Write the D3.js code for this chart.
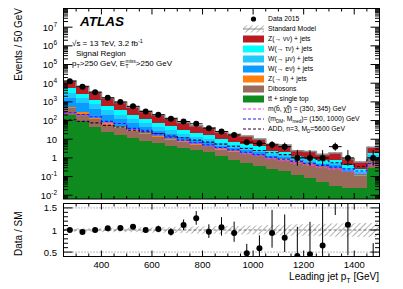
<!DOCTYPE html>
<html><head><meta charset="utf-8">
<script src="https://cdn.jsdelivr.net/npm/d3@7"></script>
<style>
body{margin:0;background:#fff}
text{font-family:"Liberation Sans",Arial,Helvetica,sans-serif;fill:#000}
</style></head>
<body><svg id="c" width="403" height="289"></svg>
<script>
// ---------------- data ----------------
const binLow = [250,300,350,400,450,500,550,600,650,700,750,800,850,900,950,1000,1050,1100,1150,1200,1250,1300,1350,1400,1450];
const binWidth = 50;
const dataCounts = [12900,6470,3300,1650,980,580,310,205,125,89,67,39,26,17,7,6,5,4,1,1,1,4,1,0,1];
const ttbar  = [205,95,45,24,16,11,8,6,4.5,3.3,2.6,2.0,1.2,0.8,0.55,0.35,0.25,0.2,0.12,0.08,0.05,0.03,0.025,0.025,0.3];
const dibos  = [250,130,70,36,24,15,10,7,5,3.5,2.6,2.2,1.6,1.3,1.2,1.0,0.7,0.6,0.5,0.4,0.3,0.25,0.15,0.08,0.6];
const zll    = [100,55,27,13,8,5,3,2,1.3,0.8,0.5,0.4,0.25,0.2,0.15,0.1,0.06,0.05,0.04,0.03,0.02,0.02,0.01,0.01,0.03];
const wen    = [1100,560,270,125,72,40,22,14,9,5.5,3.5,2.6,1.5,1.1,0.9,0.6,0.3,0.28,0.15,0.12,0.08,0.1,0.05,0.03,0.2];
const wmn    = [1350,680,320,150,85,48,27,17,11,6.5,4.2,3.1,1.8,1.3,1.05,0.7,0.35,0.32,0.18,0.14,0.1,0.12,0.06,0.04,0.25];
const wtn    = [2400,1250,600,280,160,90,50,32,20,12,7.8,5.8,3.4,2.5,2.0,1.4,0.7,0.65,0.35,0.28,0.2,0.25,0.12,0.08,0.45];
const znn    = [7495,4000,1968,962,575,331,190,122,80.2,48.4,31.8,24.4,14.75,11,9,6.1,2.99,2.75,1.1,1.16,0.79,1.05,0.48,0.34,1.9];
const smRelUnc = [0.04,0.04,0.04,0.05,0.05,0.05,0.06,0.06,0.07,0.07,0.08,0.08,0.09,0.09,0.1,0.1,0.11,0.12,0.13,0.13,0.14,0.15,0.15,0.16,0.16];
const sigSbottom = [254,200,170,80,72,32,28,18,12,8,6,4.5,3.2,2.4,1.7,1.3,0.9,0.7,0.5,0.4,0.3,0.25,0.2,0.15,0.4];
const sigDM      = [260,210,160,90,70,38,30,20,13,9,6.5,5,3.6,2.7,2,1.5,1.1,0.85,0.65,0.5,0.4,0.32,0.26,0.2,0.5];
const sigADD     = [110,90,75,55,45,30,25,20,15,12,9,7,5.5,4.2,3.2,2.5,1.9,1.5,1.1,0.9,0.7,0.55,0.45,0.35,0.8];
const yTickExp = [-2,-1,0,1,2,3,4,5,6,7];
const xTickLabels = [400,600,800,1000,1200,1400];
const ratioTicks = [0.5,1,1.5];

const layers = [
  {name:"tt̄ + single top", vals:ttbar, color:"#0f8a1e"},
  {name:"Dibosons", vals:dibos, color:"#9a6b5a"},
  {name:"Z(→ ll) + jets", vals:zll, color:"#ff7f0e"},
  {name:"W(→ eν) + jets", vals:wen, color:"#0a9bff"},
  {name:"W(→ μν) + jets", vals:wmn, color:"#1fc8ff"},
  {name:"W(→ τν) + jets", vals:wtn, color:"#00ffff"},
  {name:"Z(→ νν) + jets", vals:znn, color:"#b81c22"}
];

// ---------------- layout ----------------
const svg = d3.select("#c");
const L=63.5, R=379.5, T1=8.5, B1=199, T2=203.5, B2=256.5;
const x = d3.scaleLinear([250,1500],[L,R]);
const y = d3.scaleLog([Math.pow(10,-2.2),1e8],[B1,T1]);
const yr = d3.scaleLinear([0.4,1.6],[B2,T2]);

const defs = svg.append("defs");
const pat = defs.append("pattern").attr("id","hatch").attr("patternUnits","userSpaceOnUse")
  .attr("width",4).attr("height",4).attr("patternTransform","rotate(45)");
pat.append("line").attr("x1",0).attr("y1",0).attr("x2",0).attr("y2",4).attr("stroke","#444").attr("stroke-width",0.8);
defs.append("clipPath").attr("id","clipU").append("rect").attr("x",L).attr("y",T1).attr("width",R-L).attr("height",B1-T1);
defs.append("clipPath").attr("id","clipL").append("rect").attr("x",L).attr("y",T2).attr("width",R-L).attr("height",B2-T2);

const up = svg.append("g").attr("clip-path","url(#clipU)");
const n = binLow.length;
const cum = []; let run = new Array(n).fill(0);
layers.forEach(l=>{ const lo=run.slice(); run = run.map((v,i)=>v+l.vals[i]); cum.push({l, lo, hi:run.slice()}); });
const smTot = run.slice();

cum.forEach(c=>{
  up.selectAll(null).data(d3.range(n)).join("rect")
    .attr("x",i=>x(binLow[i])).attr("width",i=>x(binLow[i]+binWidth)-x(binLow[i]))
    .attr("y",i=>y(c.hi[i]))
    .attr("height",i=>(c.lo[i]>0? y(c.lo[i]) : B1+2)-y(c.hi[i]))
    .attr("fill",c.l.color).attr("shape-rendering","crispEdges");
});
up.selectAll(null).data(d3.range(n)).join("rect")
  .attr("x",i=>x(binLow[i])).attr("width",i=>x(binLow[i]+binWidth)-x(binLow[i]))
  .attr("y",i=>y(smTot[i]*(1+smRelUnc[i])))
  .attr("height",i=>y(smTot[i]*(1-smRelUnc[i]))-y(smTot[i]*(1+smRelUnc[i])))
  .attr("fill","url(#hatch)");
function stepPath(vals, yy){
  let p="";
  vals.forEach((v,i)=>{ const x0=x(binLow[i]), x1=x(binLow[i]+binWidth), yv=yy(v);
    p += (i===0? `M${x0},${yv}` : `L${x0},${yv}`) + `L${x1},${yv}`; });
  return p;
}
up.append("path").attr("d",stepPath(smTot,y)).attr("fill","none").attr("stroke","#8c8c8c").attr("stroke-width",1.6);
[[sigSbottom,"#ff3cff"],[sigDM,"#1a1aff"],[sigADD,"#330033"]].forEach(([v,c])=>{
  up.append("path").attr("d",stepPath(v,y)).attr("fill","none").attr("stroke",c).attr("stroke-width",1.1).attr("stroke-dasharray","3,2");
});
function pois(k){ if(k===0) return [0,1.84]; const s=Math.sqrt(k+0.25); return [k-s+0.5, k+s+0.5]; }
const dg = up.append("g");
d3.range(n).forEach(i=>{
  const k=dataCounts[i]; if(k<=0) return;
  const cx=x(binLow[i]+binWidth/2), [lo,hi]=pois(k);
  dg.append("line").attr("x1",cx).attr("x2",cx).attr("y1",y(hi)).attr("y2",lo>0?y(lo):B1).attr("stroke","#000").attr("stroke-width",1);
  dg.append("line").attr("x1",x(binLow[i])).attr("x2",x(binLow[i]+binWidth)).attr("y1",y(k)).attr("y2",y(k)).attr("stroke","#000").attr("stroke-width",1);
  dg.append("circle").attr("cx",cx).attr("cy",y(k)).attr("r",3).attr("fill","#000");
});

const lo = svg.append("g").attr("clip-path","url(#clipL)");
lo.selectAll(null).data(d3.range(n)).join("rect")
  .attr("x",i=>x(binLow[i])).attr("width",i=>x(binLow[i]+binWidth)-x(binLow[i]))
  .attr("y",i=>yr(1+smRelUnc[i])).attr("height",i=>yr(1-smRelUnc[i])-yr(1+smRelUnc[i]))
  .attr("fill","url(#hatch)");
[[0.5,"1,2"],[1.5,"1,2"],[1,"3,2"]].forEach(([v,da])=>{
  lo.append("line").attr("x1",L).attr("x2",R).attr("y1",yr(v)).attr("y2",yr(v)).attr("stroke","#555").attr("stroke-width",0.8).attr("stroke-dasharray",da);
});
d3.range(n).forEach(i=>{
  const k=dataCounts[i]; if(k<=0) return;
  const cx=x(binLow[i]+binWidth/2), r=k/smTot[i], [pl,ph]=pois(k);
  lo.append("line").attr("x1",cx).attr("x2",cx).attr("y1",yr(ph/smTot[i])).attr("y2",yr(pl/smTot[i])).attr("stroke","#000").attr("stroke-width",1);
  lo.append("circle").attr("cx",cx).attr("cy",yr(r)).attr("r",3).attr("fill","#000");
});

const ax = svg.append("g").attr("stroke","#000").attr("stroke-width",1);
[[T1,B1],[T2,B2]].forEach(([t,b])=>{
  ax.append("rect").attr("x",L).attr("y",t).attr("width",R-L).attr("height",b-t).attr("fill","none");
  d3.range(250,1501,50).forEach(v=>{
    const len = (v%200===0)? 6 : 3;
    ax.append("line").attr("x1",x(v)).attr("x2",x(v)).attr("y1",b).attr("y2",b-len);
    ax.append("line").attr("x1",x(v)).attr("x2",x(v)).attr("y1",t).attr("y2",t+len);
  });
});
for(let e=-3;e<=8;e++){
  for(let m=1;m<=9;m++){
    const v=m*Math.pow(10,e); if(v<y.domain()[0]||v>y.domain()[1]) continue;
    const len = m===1? 9 : 4.5;
    ax.append("line").attr("x1",L).attr("x2",L+len).attr("y1",y(v)).attr("y2",y(v));
    ax.append("line").attr("x1",R).attr("x2",R-len).attr("y1",y(v)).attr("y2",y(v));
  }
}
for(let v=0.4;v<=1.601;v+=0.1){
  const major = Math.abs(v*2-Math.round(v*2))<1e-6;
  const len = major? 9:4.5;
  ax.append("line").attr("x1",L).attr("x2",L+len).attr("y1",yr(v)).attr("y2",yr(v));
  ax.append("line").attr("x1",R).attr("x2",R-len).attr("y1",yr(v)).attr("y2",yr(v));
}

const tl = svg.append("g").attr("font-size",9.5);
yTickExp.forEach(e=>{
  const t = tl.append("text").attr("x",57).attr("y",y(Math.pow(10,e))+3.5).attr("text-anchor","end");
  if(e===0) t.text("1"); else if(e===1) t.text("10");
  else { t.append("tspan").text("10"); t.append("tspan").attr("dy",-4).attr("font-size",6.5).text(e); }
});
ratioTicks.forEach(v=>{
  tl.append("text").attr("x",57).attr("y",yr(v)+3.5).attr("text-anchor","end").text(v);
});
xTickLabels.forEach(v=>{
  tl.append("text").attr("x",x(v)).attr("y",268).attr("text-anchor","middle").text(v);
});

svg.append("text").attr("transform","translate(22,8) rotate(-90)").attr("text-anchor","end").attr("font-size",10).text("Events / 50 GeV");
svg.append("text").attr("transform","translate(22,256) rotate(-90)").attr("text-anchor","start").attr("font-size",10).text("Data / SM");
const xt = svg.append("text").attr("x",379).attr("y",280).attr("text-anchor","end").attr("font-size",10);
xt.append("tspan").text("Leading jet p");
xt.append("tspan").attr("dy",2.5).attr("font-size",7).text("T");
xt.append("tspan").attr("dy",-2.5).text(" [GeV]");

svg.append("text").attr("x",80).attr("y",26).attr("font-size",13.5).attr("font-weight","bold").attr("font-style","italic").text("ATLAS");
const t1 = svg.append("text").attr("x",72).attr("y",46).attr("font-size",8);
t1.append("tspan").text("√s = 13 TeV, 3.2 fb");
t1.append("tspan").attr("dy",-3).attr("font-size",5.5).text("-1");
svg.append("text").attr("x",76).attr("y",56).attr("font-size",8).text("Signal Region");
const t3 = svg.append("text").attr("x",72).attr("y",66).attr("font-size",8);
t3.append("tspan").text("p");
t3.append("tspan").attr("dy",2).attr("font-size",5.5).text("T");
t3.append("tspan").attr("dy",-2).text(">250 GeV, E");
t3.append("tspan").attr("dy",2).attr("font-size",5.5).text("T");
t3.append("tspan").attr("dx",-3).attr("dy",-5).attr("font-size",5).text("miss");
t3.append("tspan").attr("dy",3).text(">250 GeV");

const lg = svg.append("g").attr("font-size",6.8);
const lx=243, lw=21, tx=268, ly0=19, dy=10;
const rows = [
  {type:"data", label:"Data 2015"},
  {type:"sm", label:"Standard Model"},
  {type:"box", c:"#b81c22", label:"Z(→ νν) + jets"},
  {type:"box", c:"#00ffff", label:"W(→ τν) + jets"},
  {type:"box", c:"#1fc8ff", label:"W(→ μν) + jets"},
  {type:"box", c:"#0a9bff", label:"W(→ eν) + jets"},
  {type:"box", c:"#ff7f0e", label:"Z(→ ll) + jets"},
  {type:"box", c:"#9a6b5a", label:"Dibosons"},
  {type:"box", c:"#0f8a1e", label:"tt̄ + single top"},
  {type:"line", c:"#ff3cff", label:"sb"},
  {type:"line", c:"#1a1aff", label:"dm"},
  {type:"line", c:"#330033", label:"add"}
];
rows.forEach((r,i)=>{
  const cy = ly0 + i*dy;
  if(r.type==="data") lg.append("circle").attr("cx",lx+lw/2).attr("cy",cy).attr("r",2.6).attr("fill","#000");
  if(r.type==="sm"){ lg.append("rect").attr("x",lx).attr("y",cy-3.5).attr("width",lw).attr("height",7).attr("fill","url(#hatch)");
     lg.append("line").attr("x1",lx).attr("x2",lx+lw).attr("y1",cy).attr("y2",cy).attr("stroke","#8c8c8c").attr("stroke-width",1); }
  if(r.type==="box") lg.append("rect").attr("x",lx).attr("y",cy-3.5).attr("width",lw).attr("height",7).attr("fill",r.c);
  if(r.type==="line") lg.append("line").attr("x1",lx).attr("x2",lx+lw).attr("y1",cy).attr("y2",cy).attr("stroke",r.c).attr("stroke-width",1.1).attr("stroke-dasharray","3,2");
  const t = lg.append("text").attr("x",tx).attr("y",cy+2.4);
  if(r.label==="sb"){
    t.append("tspan").text("m(b̃, χ̃");
    t.append("tspan").attr("dy",-2.5).attr("font-size",4.5).text("0");
    t.append("tspan").attr("dx",-2.5).attr("dy",4.5).attr("font-size",4.5).text("1");
    t.append("tspan").attr("dy",-2).text(") = (350, 345) GeV");
  } else if(r.label==="dm"){
    t.append("tspan").text("(m");
    t.append("tspan").attr("dy",2).attr("font-size",4.5).text("DM");
    t.append("tspan").attr("dy",-2).text(", M");
    t.append("tspan").attr("dy",2).attr("font-size",4.5).text("med");
    t.append("tspan").attr("dy",-2).text(")= (150, 1000) GeV");
  } else if(r.label==="add"){
    t.append("tspan").text("ADD, n=3, M");
    t.append("tspan").attr("dy",2).attr("font-size",4.5).text("D");
    t.append("tspan").attr("dy",-2).text("=5600 GeV");
  } else t.text(r.label);
});
</script></body></html>
